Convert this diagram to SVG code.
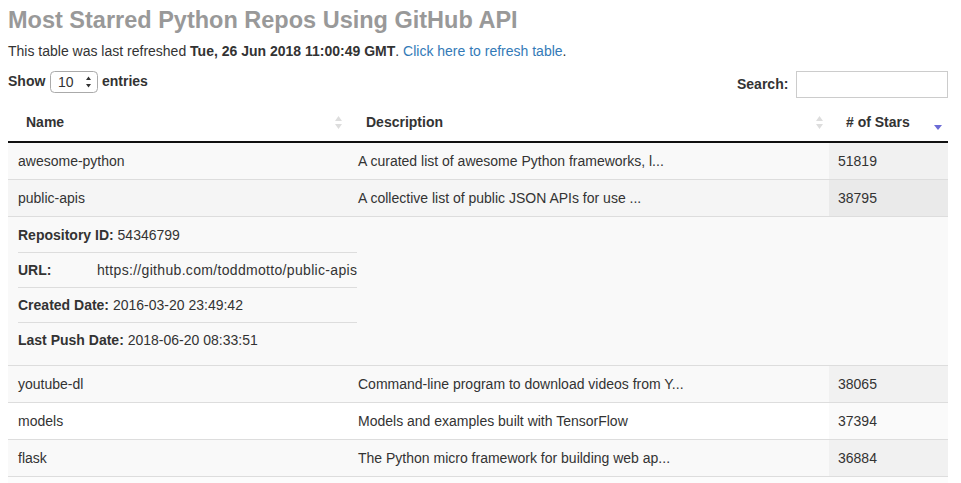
<svg xmlns="http://www.w3.org/2000/svg" width="961" height="483" viewBox="0 0 961 483">
<style>
text{font-family:"Liberation Sans",Arial,sans-serif;font-size:14px;fill:#333}
.b{font-weight:bold}
.title{font-size:23.5px;fill:#999;font-weight:bold}
.link{fill:#337ab7}
.line{stroke:#ddd;stroke-width:1}
.sort{fill:#ddd}
</style>
<rect width="961" height="483" fill="#fff"/>
<g id="header">
<text class="title" x="8" y="28">Most Starred Python Repos Using GitHub API</text>
<text x="8" y="56">This table was last refreshed <tspan class="b">Tue, 26 Jun 2018 11:00:49 GMT</tspan>. <tspan class="link">Click here to refresh table</tspan>.</text>
</g>
<g id="length">
<text class="b" x="8" y="86">Show</text>
<rect x="50.5" y="71.5" width="47" height="21" rx="4" fill="#fff" stroke="#aaa"/>
<text x="58" y="87">10</text>
<path d="M86 80 l2.5 -3.5 l2.5 3.5z M86 84 l2.5 3.5 l2.5 -3.5z" fill="#333"/>
<text class="b" x="102" y="86">entries</text>
</g>
<g id="search">
<text class="b" x="737" y="89">Search:</text>
<rect x="796.5" y="71.5" width="151" height="26" fill="#fff" stroke="#ccc"/>
</g>
<g id="thead">
<text class="b" x="26" y="127">Name</text>
<text class="b" x="366" y="127">Description</text>
<text class="b" x="846" y="127"># of Stars</text>
<path class="sort" d="M335 121 l3.5 -5 l3.5 5z M335 124 l3.5 5 l3.5 -5z"/>
<path class="sort" d="M816 121 l3.5 -5 l3.5 5z M816 124 l3.5 5 l3.5 -5z"/>
<path d="M934 125 l4 5 l4 -5z" fill="#6b6bd6"/>
<rect x="8" y="141" width="940" height="2" fill="#111"/>
</g>
<g id="row-awesome-python">
<rect x="8" y="143" width="940" height="36" fill="#f9f9f9"/>
<rect x="829" y="143" width="119" height="36" fill="#f1f1f1"/>
<text x="18" y="166">awesome-python</text>
<text x="358" y="166">A curated list of awesome Python frameworks, l...</text>
<text x="838" y="166">51819</text>
</g>
<g id="row-public-apis">
<rect x="8" y="180" width="940" height="36" fill="#f5f5f5"/>
<rect x="829" y="180" width="119" height="36" fill="#eaeaea"/>
<text x="18" y="203">public-apis</text>
<text x="358" y="203">A collective list of public JSON APIs for use ...</text>
<text x="838" y="203">38795</text>
</g>
<g id="row-detail">
<rect x="8" y="217" width="940" height="148" fill="#f9f9f9"/>
<text x="18" y="240"><tspan class="b">Repository ID:</tspan> 54346799</text>
<line class="line" x1="18" y1="252.5" x2="357" y2="252.5"/>
<text class="b" x="18" y="275">URL:</text>
<text x="97" y="275" textLength="260">https://github.com/toddmotto/public-apis</text>
<line class="line" x1="18" y1="287.5" x2="357" y2="287.5"/>
<text x="18" y="310"><tspan class="b">Created Date:</tspan> 2016-03-20 23:49:42</text>
<line class="line" x1="18" y1="322.5" x2="357" y2="322.5"/>
<text x="18" y="345"><tspan class="b">Last Push Date:</tspan> 2018-06-20 08:33:51</text>
</g>
<g id="row-youtube-dl">
<rect x="8" y="366" width="940" height="36" fill="#f9f9f9"/>
<rect x="829" y="366" width="119" height="36" fill="#f1f1f1"/>
<text x="18" y="389">youtube-dl</text>
<text x="358" y="389">Command-line program to download videos from Y...</text>
<text x="838" y="389">38065</text>
</g>
<g id="row-models">
<rect x="8" y="403" width="940" height="36" fill="#fff"/>
<rect x="829" y="403" width="119" height="36" fill="#fafafa"/>
<text x="18" y="426">models</text>
<text x="358" y="426">Models and examples built with TensorFlow</text>
<text x="838" y="426">37394</text>
</g>
<g id="row-flask">
<rect x="8" y="440" width="940" height="36" fill="#f9f9f9"/>
<rect x="829" y="440" width="119" height="36" fill="#f1f1f1"/>
<text x="18" y="463">flask</text>
<text x="358" y="463">The Python micro framework for building web ap...</text>
<text x="838" y="463">36884</text>
</g>
<g id="row-next">
<rect x="8" y="477" width="940" height="6" fill="#fcfcfc"/>
</g>
<g id="connectors">
<line class="line" x1="8" y1="179.5" x2="948" y2="179.5"/>
<line class="line" x1="8" y1="216.5" x2="948" y2="216.5"/>
<line class="line" x1="8" y1="365.5" x2="948" y2="365.5"/>
<line class="line" x1="8" y1="402.5" x2="948" y2="402.5"/>
<line class="line" x1="8" y1="439.5" x2="948" y2="439.5"/>
<line class="line" x1="8" y1="476.5" x2="948" y2="476.5"/>
</g>
</svg>
